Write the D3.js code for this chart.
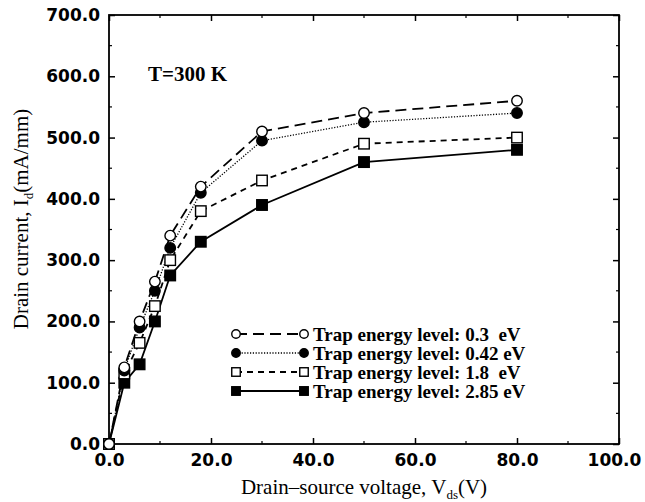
<!DOCTYPE html>
<html><head><meta charset="utf-8">
<script src="https://cdn.jsdelivr.net/npm/d3@7"></script>
<style>
html,body{margin:0;padding:0;background:#fff;}
text{white-space:pre;}
</style></head>
<body>
<svg id="chart" width="645" height="502"></svg>
<script>
// ---- data ----
const voltages = [0, 3, 6, 9, 12, 18, 30, 50, 80];
const trap03  = [0, 125, 200, 265, 340, 420, 510, 540, 560];
const trap042 = [0, 120, 190, 250, 320, 410, 495, 525, 540];
const trap18  = [0, 115, 165, 225, 300, 380, 430, 490, 500];
const trap285 = [0, 100, 130, 200, 275, 330, 390, 460, 480];
const seriesLabels = ["Trap energy level: 0.3  eV", "Trap energy level: 0.42 eV",
                      "Trap energy level: 1.8  eV", "Trap energy level: 2.85 eV"];
const xTicks = [0, 20, 40, 60, 80, 100];
const yTicks = [0, 100, 200, 300, 400, 500, 600, 700];

const series = [
  {values: trap03,  label: seriesLabels[0], shape: "circle", filled: false, dash: "11,6"},
  {values: trap042, label: seriesLabels[1], shape: "circle", filled: true,  dash: "1.2,1.6"},
  {values: trap18,  label: seriesLabels[2], shape: "square", filled: false, dash: "6,5"},
  {values: trap285, label: seriesLabels[3], shape: "square", filled: true,  dash: null}
];

const svg = d3.select("#chart");
const L = 109, R = 619, T = 15, B = 444;
const x = d3.scaleLinear().domain([0, 100]).range([L, R]);
const y = d3.scaleLinear().domain([0, 700]).range([B, T]);

const tickFont = "'DejaVu Sans', sans-serif";
const serif = "'Liberation Serif', 'Times New Roman', serif";

// minor ticks
const minorX = d3.range(10, 100, 20);
const minorY = d3.range(50, 700, 100);
const g = svg.append("g");
minorX.forEach(v => {
  g.append("line").attr("x1", x(v)).attr("x2", x(v)).attr("y1", B).attr("y2", B - 3).attr("stroke", "#000").attr("stroke-width", 1.2);
  g.append("line").attr("x1", x(v)).attr("x2", x(v)).attr("y1", T).attr("y2", T + 3).attr("stroke", "#000").attr("stroke-width", 1.2);
});
minorY.forEach(v => {
  g.append("line").attr("x1", L).attr("x2", L + 3).attr("y1", y(v)).attr("y2", y(v)).attr("stroke", "#000").attr("stroke-width", 1.2);
  g.append("line").attr("x1", R).attr("x2", R - 3).attr("y1", y(v)).attr("y2", y(v)).attr("stroke", "#000").attr("stroke-width", 1.2);
});

// axes
const fmt = d3.format(".1f");
const xAxis = svg.append("g").attr("transform", `translate(0,${B})`)
  .call(d3.axisBottom(x).tickValues(xTicks).tickFormat(fmt).tickSizeInner(-6).tickSizeOuter(0).tickPadding(10));
const xAxisTop = svg.append("g").attr("transform", `translate(0,${T})`)
  .call(d3.axisTop(x).tickValues(xTicks).tickFormat("").tickSizeInner(-6).tickSizeOuter(0));
const yAxis = svg.append("g").attr("transform", `translate(${L},0)`)
  .call(d3.axisLeft(y).tickValues(yTicks).tickFormat(fmt).tickSizeInner(-6).tickSizeOuter(0).tickPadding(9));
const yAxisR = svg.append("g").attr("transform", `translate(${R},0)`)
  .call(d3.axisRight(y).tickValues(yTicks).tickFormat("").tickSizeInner(-6).tickSizeOuter(0));
[xAxis, xAxisTop, yAxis, yAxisR].forEach(a => {
  a.select(".domain").remove();
  a.selectAll(".tick line").attr("stroke", "#000").attr("stroke-width", 1.5);
});
[xAxis, yAxis].forEach(a => a.selectAll(".tick text")
  .attr("fill", "#000").attr("font-family", tickFont).attr("font-weight", "bold").attr("font-size", 17));
xAxis.selectAll(".tick text").attr("dy", "0.71em")
  .attr("dx", d => d === 100 ? -5 : 0);

// frame
svg.append("rect").attr("x", L).attr("y", T).attr("width", R - L).attr("height", B - T)
  .attr("fill", "none").attr("stroke", "#000").attr("stroke-width", 1.8);

// lines
const line = d3.line().x((d, i) => x(voltages[i])).y(d => y(d));
series.forEach(s => {
  svg.append("path").datum(s.values).attr("d", line)
    .attr("fill", "none").attr("stroke", "#000").attr("stroke-width", s.dash && s.dash.startsWith("1.2") ? 1.3 : 1.8)
    .attr("stroke-dasharray", s.dash);
});

function drawMarker(sel, s, cx, cy, size) {
  if (s.shape === "circle") {
    sel.append("circle").attr("cx", cx).attr("cy", cy).attr("r", size / 2)
      .attr("fill", s.filled ? "#000" : "#fff").attr("stroke", "#000").attr("stroke-width", 1.4);
  } else {
    sel.append("rect").attr("x", cx - size / 2).attr("y", cy - size / 2).attr("width", size).attr("height", size)
      .attr("fill", s.filled ? "#000" : "#fff").attr("stroke", "#000").attr("stroke-width", 1.4);
  }
}
// markers (draw bottom series first)
series.slice().reverse().forEach(s => {
  const mg = svg.append("g");
  s.values.forEach((v, i) => drawMarker(mg, s, x(voltages[i]), y(v), 10.5));
});

// legend
const legX0 = 236, legX1 = 304, legTextX = 313;
const legY = [334, 353, 372, 391];
series.forEach((s, i) => {
  const lg = svg.append("g");
  lg.append("line").attr("x1", legX0).attr("x2", legX1).attr("y1", legY[i]).attr("y2", legY[i])
    .attr("stroke", "#000").attr("stroke-width", s.dash && s.dash.startsWith("1.2") ? 1.3 : 1.8)
    .attr("stroke-dasharray", s.dash);
  drawMarker(lg, s, legX0, legY[i], 8.5);
  drawMarker(lg, s, legX1, legY[i], 8.5);
  lg.append("text").attr("x", legTextX).attr("y", legY[i]).attr("dy", "0.35em")
    .attr("font-family", serif).attr("font-weight", "bold").attr("font-size", 19).text(s.label);
});

// annotation
svg.append("text").attr("x", 148).attr("y", 81).attr("font-family", serif).attr("font-weight", "bold")
  .attr("font-size", 21).text("T=300 K");

// axis titles
const xt = svg.append("text").attr("x", (L + R) / 2).attr("y", 494).attr("text-anchor", "middle")
  .attr("font-family", serif).attr("font-size", 21);
xt.append("tspan").text("Drain\u2013source voltage, V");
xt.append("tspan").attr("font-size", 13).attr("dy", 5).text("ds");
xt.append("tspan").attr("dy", -5).text("(V)");

const yt = svg.append("text").attr("transform", `translate(28,219) rotate(-90)`).attr("text-anchor", "middle")
  .attr("font-family", serif).attr("font-size", 21);
yt.append("tspan").text("Drain current, I");
yt.append("tspan").attr("font-size", 13).attr("dy", 5).text("d");
yt.append("tspan").attr("dy", -5).text("(mA/mm)");
</script>
</body></html>
